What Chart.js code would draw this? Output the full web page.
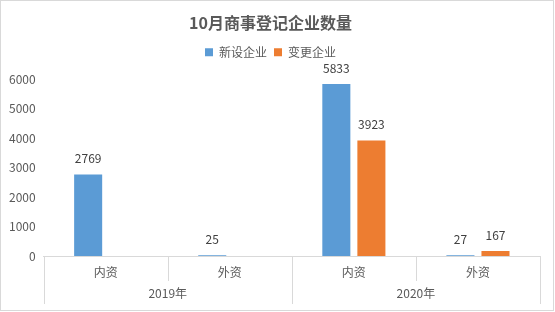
<!DOCTYPE html>
<html>
<head>
<meta charset="utf-8">
<script src="https://cdn.jsdelivr.net/npm/chart.js@4"></script>
<style>
  body { margin: 0; background: #fff; }
  #wrap { width: 555px; height: 312px; }
</style>
</head>
<body>
<div id="wrap"><canvas id="grafico"></canvas></div>
<script>
// datos
const categorias = ['内资', '外资', '内资', '外资'];
const anios = ['2019年', '2020年'];
const nuevas = [2769, 25, 5833, 27];     // 新设企业
const cambios = [null, null, 3923, 167]; // 变更企业
const ticksY = [0, 1000, 2000, 3000, 4000, 5000, 6000];

const fuente = '"Noto Sans CJK SC", "Noto Sans", sans-serif';

// etiquetas encima de las barras
const etiquetas = {
  id: 'etiquetas',
  afterDatasetsDraw(chart) {
    const ctx = chart.ctx;
    ctx.save();
    ctx.font = '12px ' + fuente;
    ctx.fillStyle = '#404040';
    ctx.textAlign = 'center';
    ctx.textBaseline = 'middle';
    chart.data.datasets.forEach((ds, i) => {
      chart.getDatasetMeta(i).data.forEach((bar, j) => {
        if (ds.data[j] == null) return;
        ctx.fillText(ds.data[j], bar.x, bar.y - 16);
      });
    });
    ctx.restore();
  }
};

// borde del grafico y lineas del eje de dos niveles
const borde = {
  id: 'borde',
  beforeDraw(chart) {
    const ctx = chart.ctx;
    ctx.save();
    ctx.fillStyle = '#fff';
    ctx.fillRect(0, 0, chart.width, chart.height);
    ctx.strokeStyle = '#d9d9d9';
    ctx.lineWidth = 1;
    ctx.strokeRect(0.5, 0.5, chart.width - 2, chart.height - 2);
    ctx.restore();
  },
  afterDraw(chart) {
    const ctx = chart.ctx;
    const x = chart.scales.x;
    const x2 = chart.scales.x2;
    const area = chart.chartArea;
    const paso = (area.right - area.left) / categorias.length;
    ctx.save();
    ctx.strokeStyle = '#d9d9d9';
    ctx.lineWidth = 1;
    for (let i = 0; i <= categorias.length; i++) {
      const px = Math.round(x.getPixelForValue(i) - paso / 2) + 0.5;
      const fin = (i % 2 === 0) ? x2.bottom : x.bottom;
      ctx.beginPath();
      ctx.moveTo(px, area.bottom);
      ctx.lineTo(px, fin);
      ctx.stroke();
    }
    ctx.restore();
  }
};

new Chart(document.getElementById('grafico').getContext('2d'), {
  type: 'bar',
  data: {
    labels: categorias,
    datasets: [{
      label: '新设企业',
      data: nuevas,
      backgroundColor: '#5B9BD5',
      xAxisID: 'x',
      yAxisID: 'y',
      categoryPercentage: 0.565,
      barPercentage: 0.8
    }, {
      label: '变更企业',
      data: cambios,
      backgroundColor: '#ED7D31',
      xAxisID: 'x',
      yAxisID: 'y',
      categoryPercentage: 0.565,
      barPercentage: 0.8
    }]
  },
  options: {
    responsive: true,
    maintainAspectRatio: false,
    animation: false,
    layout: { padding: { left: 1, right: 15, top: 0, bottom: 8 } },
    plugins: {
      title: {
        display: true,
        text: '10月商事登记企业数量',
        color: '#595959',
        font: { family: fuente, size: 16, weight: 'bold' },
        padding: { top: 13, bottom: 7 }
      },
      legend: {
        position: 'top',
        labels: {
          color: '#595959',
          font: { family: fuente, size: 12 },
          boxWidth: 8,
          boxHeight: 8,
          padding: 7
        }
      },
      tooltip: { enabled: false }
    },
    scales: {
      x: {
        offset: true,
        grid: { display: false, drawTicks: false },
        border: { display: true, color: '#d9d9d9' },
        ticks: { color: '#595959', font: { family: fuente, size: 12 }, padding: 9 },
        afterFit: (s) => { s.height = 25; }
      },
      x2: {
        type: 'category',
        position: 'bottom',
        labels: anios,
        offset: true,
        grid: { display: false, drawTicks: false },
        border: { display: false },
        ticks: { color: '#595959', font: { family: fuente, size: 12 }, padding: 5 },
        afterFit: (s) => { s.height = 23; }
      },
      // espacio entre leyenda y grafico
      sep: {
        type: 'category',
        position: 'top',
        labels: [''],
        grid: { display: false, drawTicks: false },
        border: { display: false },
        ticks: { display: false },
        afterFit: (s) => { s.height = 11; }
      },
      y: {
        min: 0,
        max: 6000,
        afterBuildTicks: (axis) => { axis.ticks = ticksY.map(v => ({ value: v })); },
        grid: { display: false, drawTicks: false },
        border: { display: false },
        ticks: { color: '#595959', font: { family: fuente, size: 12 }, padding: 8, callback: (v) => String(v) }
      }
    }
  },
  plugins: [borde, etiquetas]
});
</script>
</body>
</html>
